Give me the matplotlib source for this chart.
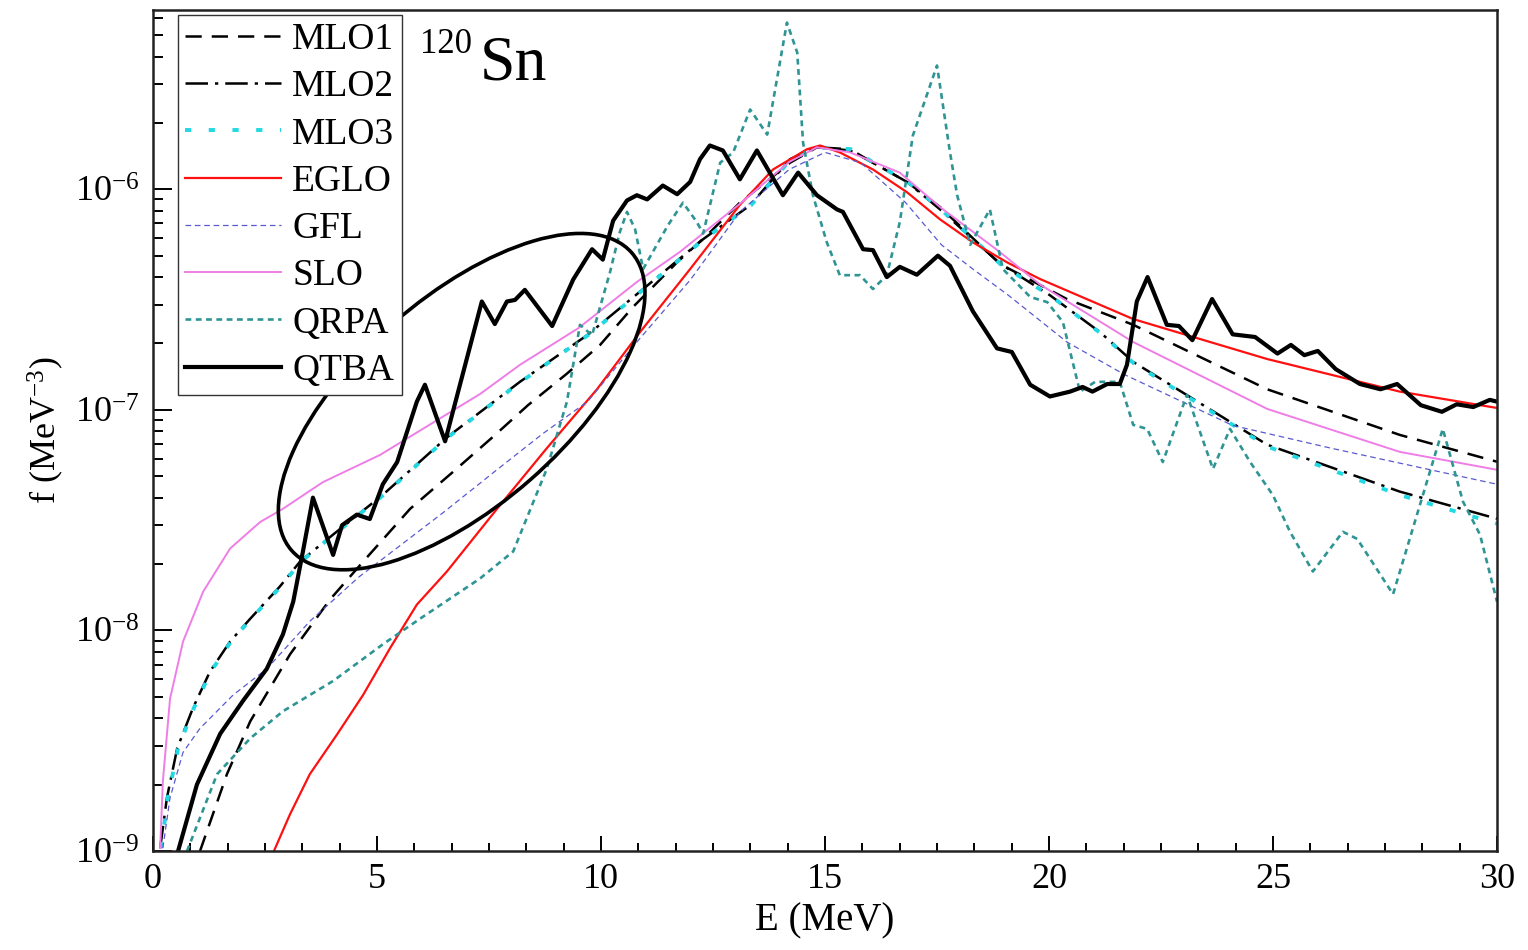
import matplotlib
matplotlib.use("Agg")
import numpy as np
import matplotlib.pyplot as plt
from matplotlib.patches import Ellipse
from matplotlib.transforms import IdentityTransform
from matplotlib.ticker import MultipleLocator, FixedLocator, NullFormatter, FuncFormatter

plt.rcParams['font.family'] = ['Liberation Serif', 'DejaVu Serif']
plt.rcParams['mathtext.fontset'] = 'custom'
plt.rcParams['mathtext.rm'] = 'Liberation Serif'
plt.rcParams['mathtext.it'] = 'Liberation Serif:italic'
plt.rcParams['mathtext.bf'] = 'Liberation Serif:bold'
plt.rcParams['mathtext.default'] = 'regular'

# ---------------- data (E in MeV, f in MeV^-3) ----------------
E_mlo1 = [1.05, 1.65, 2.17, 3.06, 3.95, 4.69, 5.74, 6.70, 7.59, 8.37, 9.24, 9.98, 10.71,
          11.70, 12.37, 13.10, 14.22, 14.82, 15.56, 16.07, 16.83, 17.57, 18.91, 20.40,
          21.88, 24.87, 27.83, 30.0]
f_mlo1 = [1.0e-9, 2.23e-9, 3.87e-9, 7.8e-9, 1.38e-8, 2.05e-8, 3.56e-8, 5.24e-8, 7.55e-8,
          1.05e-7, 1.46e-7, 1.97e-7, 2.92e-7, 4.67e-7, 6.2e-7, 8.7e-7, 1.32e-6, 1.55e-6,
          1.5e-6, 1.32e-6, 1.08e-6, 8.3e-7, 4.58e-7, 3.18e-7, 2.43e-7, 1.24e-7, 7.7e-8, 5.82e-8]

E_mlo2 = [0.16, 0.31, 0.54, 0.89, 1.27, 1.72, 2.17, 2.83, 3.28, 4.02, 5.13, 6.56, 8.19,
          9.69, 10.94, 12.28, 13.33, 14.22, 14.82, 15.56, 16.07, 16.83, 17.57, 18.91,
          20.02, 21.14, 21.88, 24.87, 27.83, 30.0]
f_mlo2 = [1.03e-9, 1.74e-9, 2.92e-9, 4.44e-9, 6.5e-9, 8.9e-9, 1.13e-8, 1.58e-8, 2.05e-8,
          2.72e-8, 4.12e-8, 7.5e-8, 1.34e-7, 2.18e-7, 3.53e-7, 5.94e-7, 8.47e-7, 1.37e-6,
          1.55e-6, 1.52e-6, 1.32e-6, 1.08e-6, 8.1e-7, 4.6e-7, 3.31e-7, 2.25e-7, 1.65e-7,
          6.95e-8, 4.26e-8, 3.21e-8]

E_mlo3 = [0.18, 0.33, 0.56, 0.91, 1.29, 1.74, 2.19, 2.85, 3.30, 4.04, 5.15, 6.58, 8.21,
          9.71, 10.96, 12.30, 13.35, 14.24, 14.84, 15.58, 16.09, 16.85, 17.59, 18.93,
          20.04, 21.16, 21.90, 24.89, 27.85, 30.0]
f_mlo3 = [1.03e-9, 1.74e-9, 2.92e-9, 4.44e-9, 6.5e-9, 8.9e-9, 1.13e-8, 1.58e-8, 2.05e-8,
          2.72e-8, 4.12e-8, 7.5e-8, 1.34e-7, 2.18e-7, 3.53e-7, 5.94e-7, 8.47e-7, 1.37e-6,
          1.55e-6, 1.52e-6, 1.32e-6, 1.08e-6, 8.1e-7, 4.55e-7, 3.28e-7, 2.22e-7, 1.62e-7,
          6.8e-8, 4.1e-8, 3.05e-8]

E_eglo = [2.70, 3.06, 3.50, 4.11, 4.69, 5.29, 5.89, 6.56, 7.68, 8.79, 9.91, 10.87, 11.99,
          13.10, 13.84, 14.60, 14.89, 15.33, 16.07, 16.83, 17.57, 18.30, 19.06, 19.80,
          21.88, 24.87, 27.83, 30.0]
f_eglo = [1.0e-9, 1.47e-9, 2.23e-9, 3.38e-9, 5.1e-9, 8.3e-9, 1.31e-8, 1.85e-8, 3.56e-8,
          6.7e-8, 1.24e-7, 2.25e-7, 4.35e-7, 8.5e-7, 1.23e-6, 1.52e-6, 1.58e-6, 1.47e-6,
          1.23e-6, 9.7e-7, 7.3e-7, 5.75e-7, 4.67e-7, 3.92e-7, 2.58e-7, 1.7e-7, 1.21e-7, 1.02e-7]

E_gfl = [0.22, 0.38, 0.67, 1.05, 1.79, 2.54, 3.50, 4.60, 5.60, 6.50, 7.60, 8.70, 9.70,
         10.80, 12.00, 13.10, 14.20, 15.00, 15.80, 16.80, 17.60, 18.30, 19.10, 20.40,
         21.70, 24.10, 26.30, 30.0]
f_gfl = [1.03e-9, 1.74e-9, 2.8e-9, 3.6e-9, 5.1e-9, 6.7e-9, 1.1e-8, 1.75e-8, 2.5e-8,
         3.45e-8, 5.2e-8, 7.8e-8, 1.09e-7, 2.03e-7, 3.9e-7, 7.9e-7, 1.23e-6, 1.47e-6,
         1.32e-6, 8.7e-7, 5.6e-7, 4.35e-7, 3.3e-7, 2.03e-7, 1.44e-7, 8.5e-8, 6.7e-8, 4.6e-8]

E_slo = [0.16, 0.22, 0.38, 0.67, 1.12, 1.72, 2.39, 2.90, 3.79, 5.07, 7.30, 8.19, 9.50,
         10.80, 11.76, 13.10, 14.20, 14.82, 15.56, 16.67, 17.57, 18.90, 19.80, 21.88,
         24.87, 27.83, 30.0]
f_slo = [1.03e-9, 2.07e-9, 4.9e-9, 8.9e-9, 1.5e-8, 2.35e-8, 3.1e-8, 3.56e-8, 4.7e-8,
         6.25e-8, 1.18e-7, 1.6e-7, 2.35e-7, 3.8e-7, 5.2e-7, 8.6e-7, 1.33e-6, 1.55e-6,
         1.47e-6, 1.19e-6, 8.3e-7, 5.2e-7, 3.7e-7, 2.03e-7, 1.01e-7, 6.45e-8, 5.35e-8]

E_qrpa = [0.76, 1.43, 2.17, 2.90, 4.02, 5.13, 5.96, 7.30, 8.04, 8.79, 9.24, 9.53, 9.80,
          10.20, 10.42, 10.58, 10.76, 10.94, 11.50, 11.83, 12.14, 12.28, 12.66, 12.95,
          13.33, 13.71, 14.15, 14.38, 14.51, 14.73, 15.04, 15.33, 15.78, 16.07, 16.38,
          16.67, 16.96, 17.50, 17.79, 17.95, 18.24, 18.68, 18.97, 19.20, 19.58, 19.96,
          20.31, 20.69, 21.03, 21.58, 21.88, 22.19, 22.54, 23.08, 23.66, 24.04, 24.49,
          25.00, 25.38, 25.89, 26.56, 26.88, 27.68, 28.79, 29.24, 29.62, 30.0]
f_qrpa = [1.0e-9, 2.23e-9, 3.24e-9, 4.3e-9, 5.9e-9, 8.65e-9, 1.13e-8, 1.72e-8, 2.28e-8,
          5.4e-8, 1.09e-7, 2.43e-7, 2.18e-7, 4.2e-7, 6.4e-7, 7.9e-7, 6.6e-7, 4.35e-7,
          6.9e-7, 8.7e-7, 7.1e-7, 6.3e-7, 1.32e-6, 1.47e-6, 2.3e-6, 1.77e-6, 5.7e-6,
          4.17e-6, 1.63e-6, 9.4e-7, 5.75e-7, 4.08e-7, 4.08e-7, 3.53e-7, 4.08e-7, 7.1e-7,
          1.75e-6, 3.64e-6, 1.47e-6, 9.4e-7, 5.6e-7, 8.1e-7, 4.35e-7, 3.9e-7, 3.25e-7,
          3.08e-7, 2.5e-7, 1.21e-7, 1.34e-7, 1.34e-7, 8.55e-8, 8.2e-8, 5.8e-8, 1.17e-7,
          5.4e-8, 8.2e-8, 5.8e-8, 4.1e-8, 2.8e-8, 1.85e-8, 2.8e-8, 2.6e-8, 1.46e-8,
          8.2e-8, 3.84e-8, 2.72e-8, 1.35e-8]

E_qtba = [0.56, 0.98, 1.50, 2.01, 2.54, 2.90, 3.13, 3.35, 3.57, 4.02, 4.22, 4.55, 4.84,
          5.13, 5.45, 5.89, 6.07, 6.52, 7.34, 7.63, 7.90, 8.08, 8.30, 8.91, 9.38, 9.80,
          10.04, 10.27, 10.58, 10.80, 11.03, 11.38, 11.70, 11.99, 12.21, 12.43, 12.72,
          13.10, 13.48, 14.06, 14.40, 14.82, 15.27, 15.40, 15.85, 16.07, 16.38, 16.67,
          17.05, 17.52, 17.79, 18.30, 18.84, 19.17, 19.58, 20.02, 20.47, 20.75, 20.97,
          21.30, 21.58, 21.74, 21.96, 22.20, 22.63, 22.90, 23.20, 23.64, 24.10, 24.60,
          25.10, 25.40, 25.70, 26.00, 26.40, 26.94, 27.40, 27.77, 28.30, 28.77, 29.10,
          29.47, 29.84, 30.0]
f_qtba = [1.0e-9, 2.0e-9, 3.4e-9, 4.8e-9, 6.7e-9, 9.6e-9, 1.35e-8, 2.3e-8, 4.0e-8, 2.2e-8,
          3.0e-8, 3.35e-8, 3.2e-8, 4.6e-8, 5.8e-8, 1.09e-7, 1.3e-7, 7.2e-8, 3.1e-7,
          2.45e-7, 3.1e-7, 3.15e-7, 3.5e-7, 2.4e-7, 3.9e-7, 5.35e-7, 4.8e-7, 7.2e-7,
          8.9e-7, 9.4e-7, 9.0e-7, 1.04e-6, 9.5e-7, 1.08e-6, 1.37e-6, 1.58e-6, 1.5e-6,
          1.11e-6, 1.5e-6, 9.4e-7, 1.19e-6, 9.4e-7, 8.1e-7, 7.9e-7, 5.35e-7, 5.3e-7,
          4.0e-7, 4.45e-7, 4.1e-7, 5.0e-7, 4.5e-7, 2.8e-7, 1.9e-7, 1.83e-7, 1.3e-7,
          1.15e-7, 1.21e-7, 1.27e-7, 1.21e-7, 1.31e-7, 1.31e-7, 1.6e-7, 3.1e-7, 4.0e-7,
          2.43e-7, 2.4e-7, 2.07e-7, 3.18e-7, 2.2e-7, 2.14e-7, 1.8e-7, 1.97e-7, 1.77e-7,
          1.85e-7, 1.53e-7, 1.31e-7, 1.24e-7, 1.31e-7, 1.05e-7, 9.8e-8, 1.06e-7, 1.03e-7,
          1.11e-7, 1.09e-7]

x_ticks = [0, 5, 10, 15, 20, 25, 30]
x_tick_labels = ['0', '5', '10', '15', '20', '25', '30']
y_ticks = [1e-9, 1e-8, 1e-7, 1e-6]
y_tick_labels = [r'$10^{-9}$', r'$10^{-8}$', r'$10^{-7}$', r'$10^{-6}$']

# highlighted region (ellipse centre in data units)
ell_E, ell_f = 6.89, 1.09e-7

# ---------------- figure ----------------
fig = plt.figure(figsize=(15.28, 9.5), dpi=100)
ax = fig.add_axes([153 / 1528, 99 / 950, 1344 / 1528, 841 / 950])

styles = [
    (E_mlo1, f_mlo1, 'MLO1', dict(color='black', lw=1.8, ls=(0, (6.5, 4)))),
    (E_mlo2, f_mlo2, 'MLO2', dict(color='black', lw=1.8, ls=(0, (9, 2.8, 1.3, 2.8)))),
    (E_mlo3, f_mlo3, 'MLO3', dict(color='#22d8e2', lw=2.8, ls=(0, (1.6, 4.5)))),
    (E_eglo, f_eglo, 'EGLO', dict(color='#ff1010', lw=1.6, ls='-')),
    (E_gfl, f_gfl, 'GFL', dict(color='#5a5ad0', lw=0.9, ls=(0, (4.5, 3)))),
    (E_slo, f_slo, 'SLO', dict(color='#ee7ee6', lw=1.4, ls='-')),
    (E_qrpa, f_qrpa, 'QRPA', dict(color='#2f9494', lw=1.9, ls=(0, (2.2, 1.7)))),
    (E_qtba, f_qtba, 'QTBA', dict(color='black', lw=3.0, ls='-')),
]
for E, f, lab, st in styles:
    ax.plot(E, f, label=lab, solid_joinstyle='round', **st)

ax.set_yscale('log')
ax.set_xlim(0, 30)
ax.set_ylim(1e-9, 6.5e-6)

ax.set_xticks(x_ticks)
ax.set_xticklabels(x_tick_labels)
ax.xaxis.set_minor_locator(MultipleLocator(5 / 6))
ax.yaxis.set_major_locator(FixedLocator(y_ticks))
ax.yaxis.set_major_formatter(FuncFormatter(lambda v, p: y_tick_labels[y_ticks.index(v)]
                                           if v in y_ticks else ''))
minor_y = [m * d for d in (1e-9, 1e-8, 1e-7, 1e-6) for m in range(2, 10) if m * d < 6.5e-6]
ax.yaxis.set_minor_locator(FixedLocator(minor_y))
ax.yaxis.set_minor_formatter(NullFormatter())

ax.tick_params(which='both', direction='in', top=False, right=False, width=1.4,
               labelsize=26, colors='black')
ax.tick_params(axis='x', which='major', length=11, pad=9)
ax.tick_params(axis='x', which='minor', length=6)
ax.tick_params(axis='y', which='major', length=14, pad=10)
ax.tick_params(axis='y', which='minor', length=7)
for sp in ax.spines.values():
    sp.set_linewidth(1.8)
    sp.set_color('#222222')

ax.set_xlabel('E (MeV)', fontsize=28, labelpad=4)
ax.set_ylabel(r'f (MeV$^{-3}$)', fontsize=26, labelpad=6)

# highlighting ellipse (drawn in display pixels around a data-space centre),
# placed below the legend
cxy = ax.transData.transform((ell_E, ell_f))
ell = Ellipse(cxy, 2 * 226, 2 * 104, angle=41.2, transform=IdentityTransform(),
              fill=False, edgecolor='black', lw=2.6, zorder=3, clip_on=False)
ax.add_artist(ell)

leg = ax.legend(loc='upper left', bbox_to_anchor=(0.0186, 0.994), borderaxespad=0,
                fontsize=27, handlelength=2.55, handletextpad=0.3, borderpad=0.2,
                labelspacing=0.34, frameon=True, fancybox=False, framealpha=1,
                edgecolor='#333333')
leg.get_frame().set_linewidth(1.0)
leg.set_zorder(10)

# nucleus label
ax.text(0.1987, 0.9489, '120', transform=ax.transAxes, fontsize=25, ha='left',
        va='baseline')
ax.text(0.2433, 0.9168, 'Sn', transform=ax.transAxes, fontsize=46, ha='left',
        va='baseline')

fig.savefig('out.png', dpi=100)
